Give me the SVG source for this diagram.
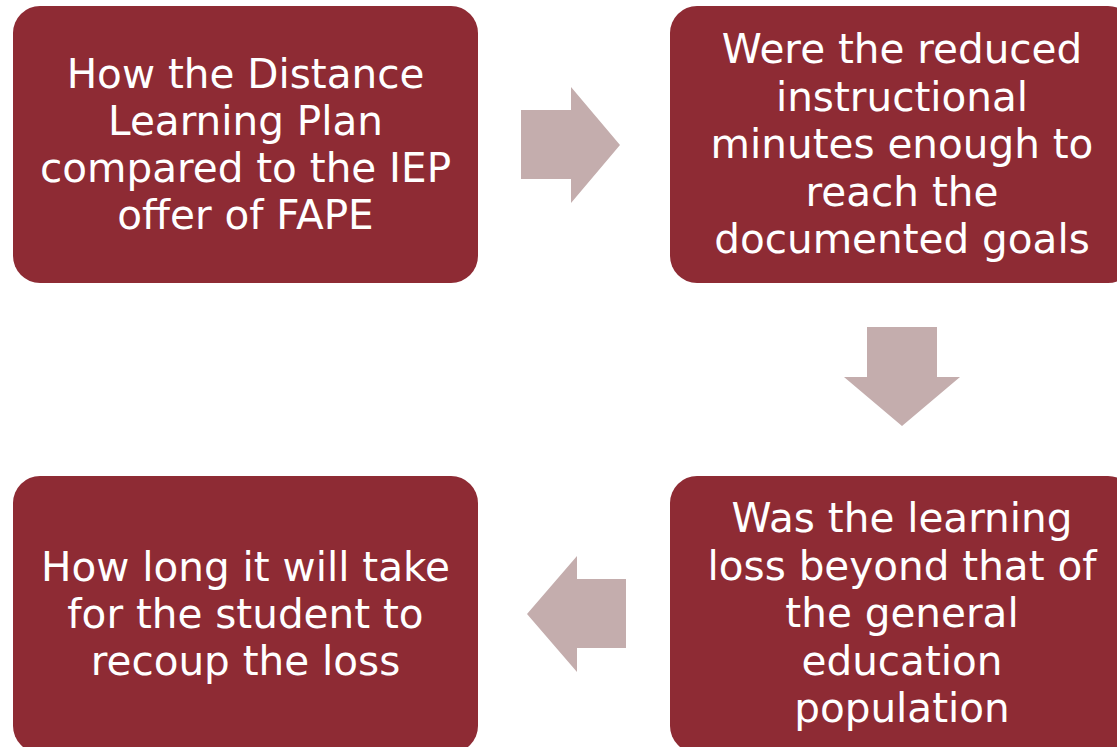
<svg xmlns="http://www.w3.org/2000/svg" width="1117" height="747" viewBox="0 0 1117 747">
<style>
.box{fill:#8e2b34}
.arr{fill:#c4adad}
.t{font-family:"DejaVu Sans","Verdana",sans-serif;font-size:40.5px;fill:#ffffff;text-anchor:middle}
</style>
<rect width="1117" height="747" fill="#ffffff"/>
<g id="connectors">
<polygon class="arr" points="521,110 571,110 571,87 620,145 571,203 571,179 521,179"/>
<polygon class="arr" points="867,327 937,327 937,377 960,377 902,426 844,377 867,377"/>
<polygon class="arr" points="626,579 577,579 577,556 527,614 577,672 577,648 626,648"/>
</g>
<g id="node1">
<rect class="box" x="13" y="6" width="465" height="277" rx="27"/>
<text class="t" x="245.5" y="88">How the Distance</text>
<text class="t" x="245.5" y="135">Learning Plan</text>
<text class="t" x="245.5" y="182">compared to the IEP</text>
<text class="t" x="245.5" y="229">offer of FAPE</text>
</g>
<g id="node2">
<rect class="box" x="670" y="6" width="465" height="277" rx="27"/>
<text class="t" x="902" y="63">Were the reduced</text>
<text class="t" x="902" y="110.5">instructional</text>
<text class="t" x="902" y="158">minutes enough to</text>
<text class="t" x="902" y="205.5">reach the</text>
<text class="t" x="902" y="253">documented goals</text>
</g>
<g id="node3">
<rect class="box" x="670" y="476" width="465" height="277" rx="27"/>
<text class="t" x="902" y="532">Was the learning</text>
<text class="t" x="902" y="579.5">loss beyond that of</text>
<text class="t" x="902" y="627">the general</text>
<text class="t" x="902" y="674.5">education</text>
<text class="t" x="902" y="722">population</text>
</g>
<g id="node4">
<rect class="box" x="13" y="476" width="465" height="277" rx="27"/>
<text class="t" x="245.5" y="581">How long it will take</text>
<text class="t" x="245.5" y="628">for the student to</text>
<text class="t" x="245.5" y="675">recoup the loss</text>
</g>
</svg>
